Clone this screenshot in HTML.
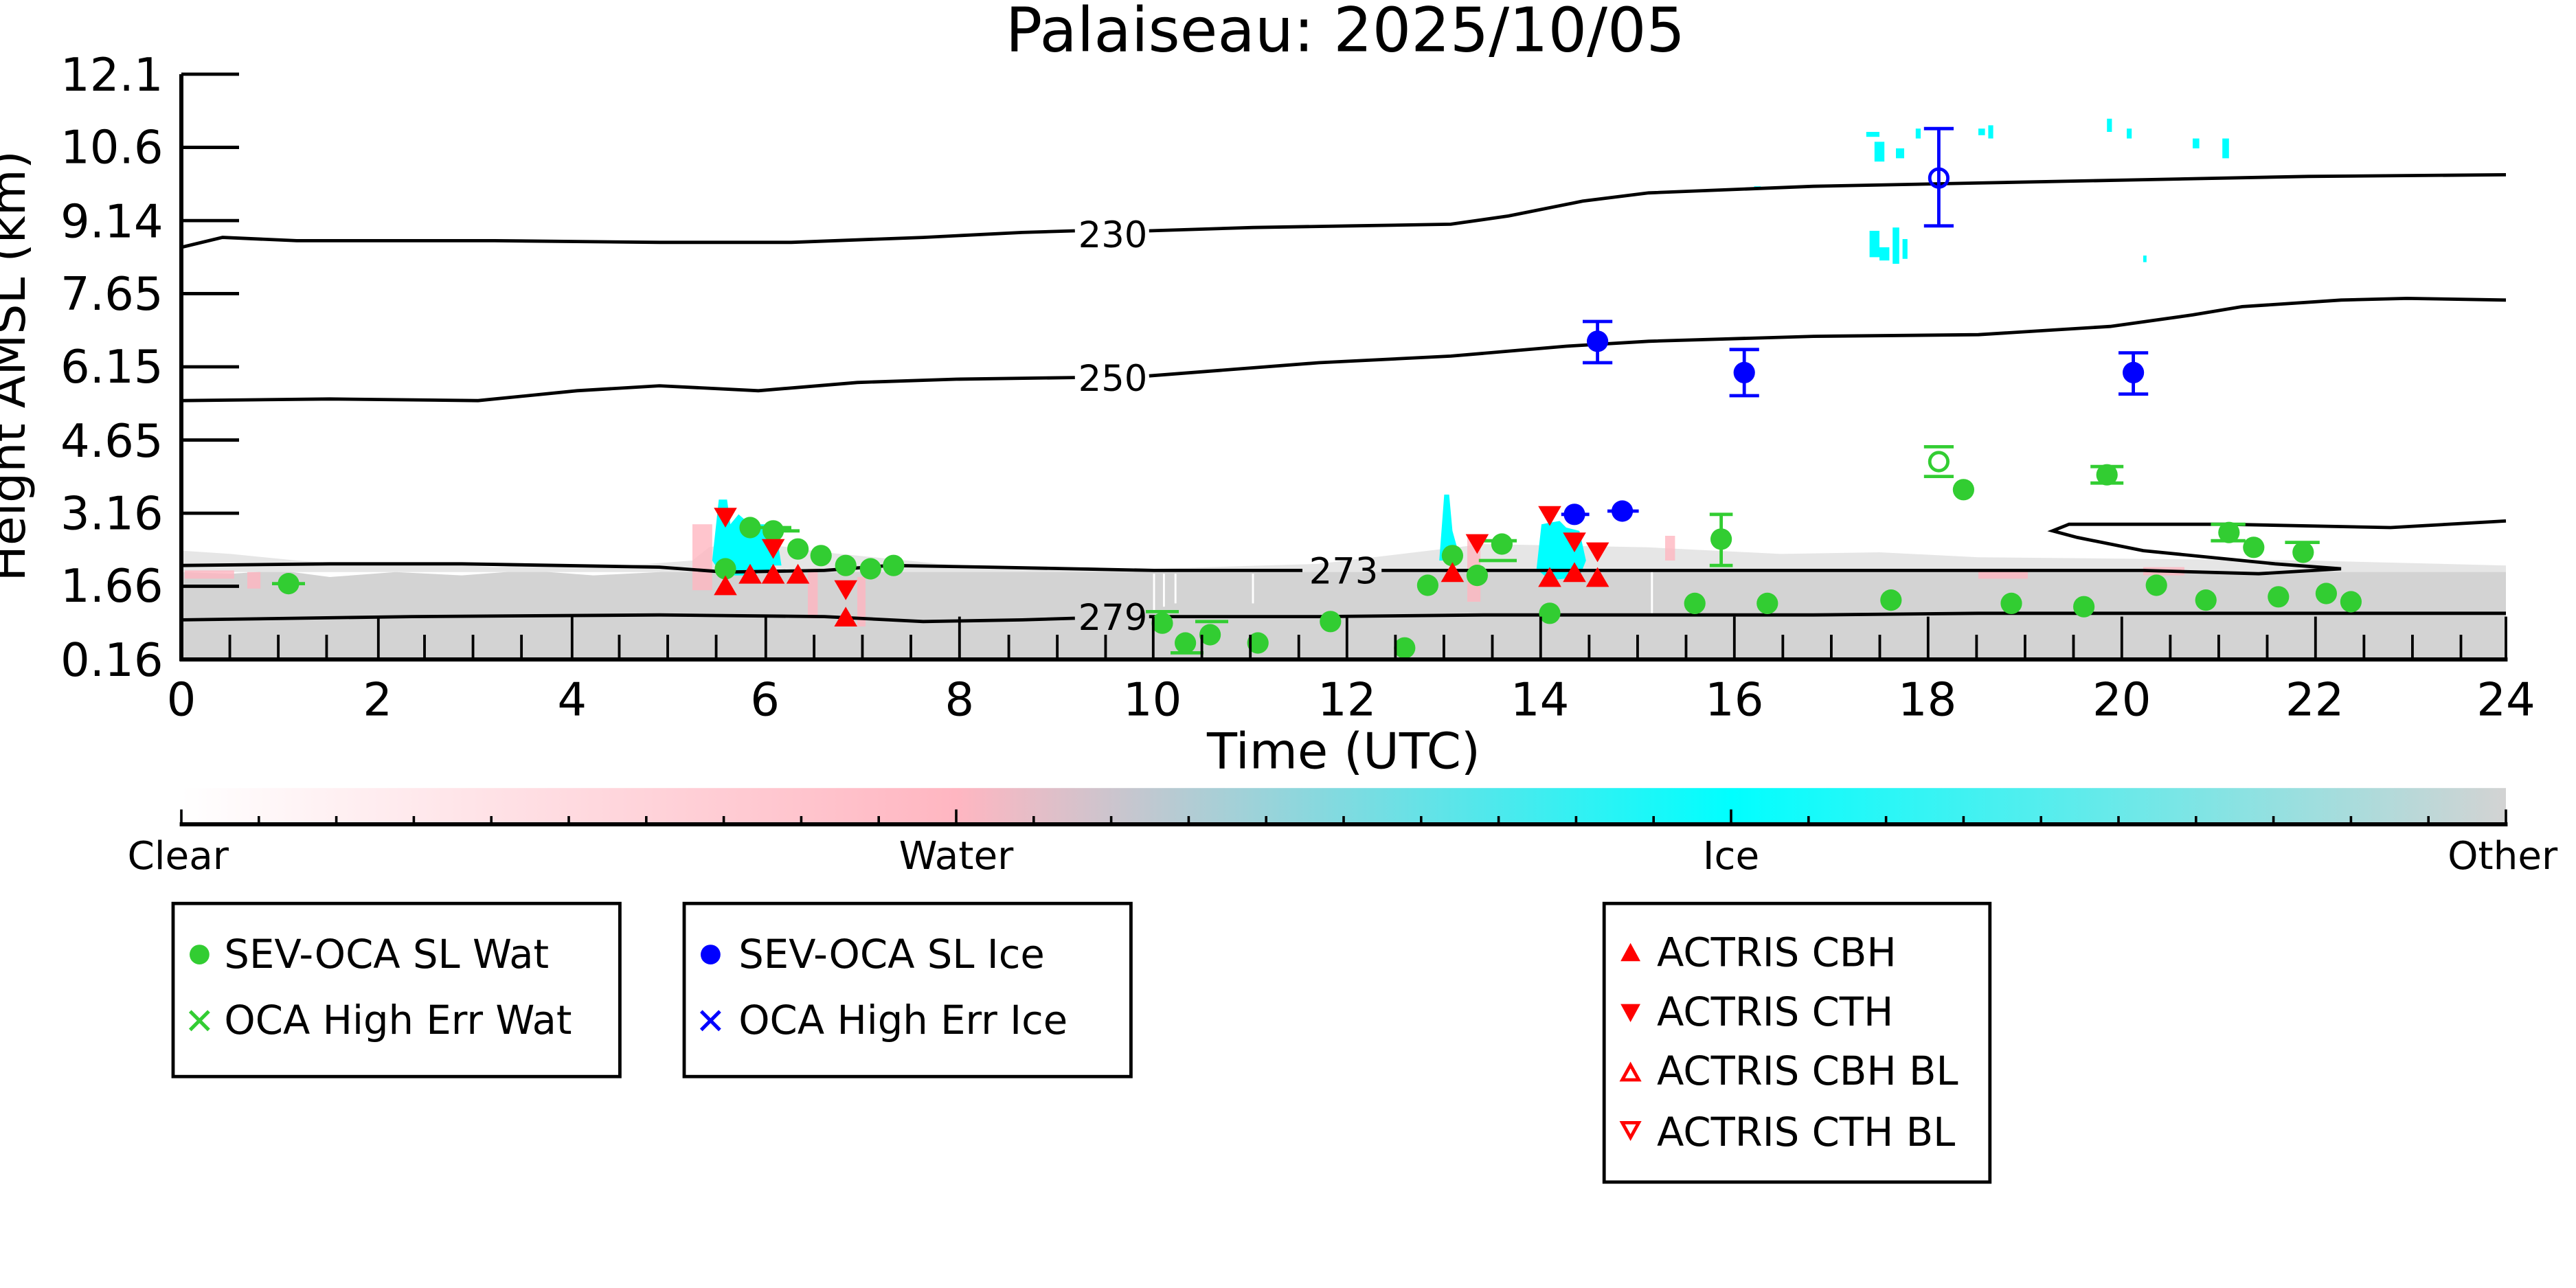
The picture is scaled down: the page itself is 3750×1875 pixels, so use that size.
<!DOCTYPE html>
<html><head><meta charset="utf-8"><style>html,body{margin:0;padding:0;background:#fff}svg{display:block}</style></head>
<body>
<svg width="3750" height="1875" viewBox="0 0 1562.5 781.25" xmlns="http://www.w3.org/2000/svg" font-family="DejaVu Sans, Liberation Sans, sans-serif">
<rect width="1562.5" height="781.25" fill="#fff"/>
<text x="816" y="31" font-size="37" text-anchor="middle">Palaiseau: 2025/10/05</text>
<polygon fill="#d3d3d3" points="110,400 110,347 140,348 170,346 200,350 240,347 280,349 320,346 360,349 400,347 420,344 440,340 470,342 500,346 540,343 580,345 620,345 660,344 700,346 740,345 780,344 820,343 860,340 880,338 900,340 940,339 980,342 1020,340 1060,339 1100,341 1140,339 1180,341 1220,342 1260,341 1300,342 1340,341 1380,343 1420,342 1460,344 1520,344 1520,400"/>
<polygon fill="#e6e6e6" points="110,347 110,334 140,336 180,340 220,343 260,342 300,344 340,342 380,343 420,340 430,332 450,328 500,335 560,341 600,345 700,345 800,342 900,330 1000,332 1080,336 1140,335 1200,338 1300,339 1400,340 1520,343 1520,347"/>
<g stroke="#fff" stroke-width="1.2">
<line x1="700" y1="348" x2="700" y2="372"/><line x1="706" y1="348" x2="706" y2="368"/><line x1="713" y1="348" x2="713" y2="366"/><line x1="760" y1="348" x2="760" y2="366"/><line x1="1002" y1="345" x2="1002" y2="372"/>
</g>
<g fill="#ffb6c1" opacity="0.8">
<rect x="112" y="346" width="30" height="5"/><rect x="150" y="347" width="8" height="10"/><rect x="420" y="318" width="12" height="40"/><rect x="490" y="345" width="6" height="30"/><rect x="520" y="350" width="5" height="30"/><rect x="890" y="325" width="8" height="40"/><rect x="1010" y="325" width="6" height="15"/><rect x="1200" y="345" width="30" height="6"/><rect x="1300" y="344" width="25" height="5"/>
</g>
<g fill="#00ffff">
<polygon points="432,340 436,303 441,303 443,318 448,312 455,318 466,318 468,345 456,349 447,349 438,349"/>
<polygon points="466,330 472,330 474,343 466,343"/>
<polygon points="873,340 876,300 879,300 881,322 886,340"/>
<polygon points="932,345 935,318 946,316 950,320 958,322 962,340 958,350 940,352"/>
<rect x="1132" y="80" width="8" height="3"/><rect x="1137" y="86" width="6" height="12"/><rect x="1150" y="90" width="5" height="6"/><rect x="1162" y="78" width="3" height="6"/><rect x="1200" y="78" width="4" height="4"/><rect x="1206" y="76" width="3" height="8"/>
<rect x="1278" y="72" width="3" height="8"/><rect x="1290" y="78" width="3" height="6"/><rect x="1330" y="84" width="4" height="6"/><rect x="1348" y="84" width="4" height="12"/>
<rect x="1134" y="140" width="6" height="16"/><rect x="1140" y="150" width="6" height="8"/><rect x="1148" y="138" width="4" height="22"/><rect x="1154" y="145" width="3" height="12"/><rect x="1300" y="155" width="2" height="4"/><rect x="1064" y="113" width="4" height="2"/>
</g>
<g fill="none" stroke="#000" stroke-width="2">
<polyline points="110,150 135,144 180,146 300,146 400,147 480,147 560,144 620,141 652,140"/>
<polyline points="697,140 760,138 820,137 880,136 915,131 960,122 1000,117 1100,113 1200,111 1300,109 1400,107 1520,106"/>
<polyline points="110,243 200,242 290,243 350,237 400,234 460,237 520,232 580,230 652,229"/>
<polyline points="697,228 800,220 880,216 950,210 1000,207 1100,204 1200,203 1280,198 1330,191 1360,186 1420,182 1460,181 1520,182"/>
<polyline points="110,343 200,342 280,342 400,344 440,347 500,346 540,343 600,344 700,346 790,346"/>
<polyline points="838,346 1000,346 1200,346 1300,346 1370,348 1420,345 1380,342 1300,334 1260,326 1245,322 1255,318 1350,318 1450,320 1520,316"/>
<polyline points="110,376 250,374 400,373 500,374 560,377 620,376 652,375"/>
<polyline points="697,374 800,374 900,373 1000,373 1100,373 1200,372 1520,372"/>
</g>
<g font-size="22" text-anchor="middle">
<text x="675" y="150">230</text><text x="675" y="237">250</text><text x="815" y="354">273</text><text x="675" y="382">279</text>
</g>
<g stroke="#32cd32" stroke-width="2" fill="none">
<path d="M1044,312 V343 M1037,312 H1051 M1037,343 H1051"/>
<path d="M1167,271 H1185 M1167,289 H1185"/>
<path d="M1268,283 H1288 M1268,293 H1288"/>
<path d="M1341,318 H1362 M1341,328 H1362"/>
<path d="M1386,329 H1407"/>
<path d="M695,371 H715 M710,396 H730 M725,377 H745"/>
<path d="M165,354 H185 M455,320 H480 M469,322 H485 M897,328 H920 M897,340 H920"/>
</g>
<g stroke="#0000ff" stroke-width="2" fill="none">
<path d="M969,195 V220 M960,195 H978 M960,220 H978"/>
<path d="M1058,212 V240 M1049,212 H1067 M1049,240 H1067"/>
<path d="M1294,214 V239 M1285,214 H1303 M1285,239 H1303"/>
<path d="M1176,78 V137 M1167,78 H1185 M1167,137 H1185"/>
<path d="M947,312 H964 M975,310 H994"/>
</g>
<g fill="#32cd32">
<circle cx="175" cy="354" r="6.5"/><circle cx="440" cy="345" r="6.5"/><circle cx="455" cy="320" r="6.5"/><circle cx="469" cy="322" r="6.5"/><circle cx="484" cy="333" r="6.5"/><circle cx="498" cy="337" r="6.5"/><circle cx="513" cy="343" r="6.5"/><circle cx="528" cy="345" r="6.5"/><circle cx="542" cy="343" r="6.5"/>
<circle cx="705" cy="378" r="6.5"/><circle cx="719" cy="390" r="6.5"/><circle cx="734" cy="385" r="6.5"/><circle cx="763" cy="390" r="6.5"/><circle cx="807" cy="377" r="6.5"/><circle cx="852" cy="393" r="6.5"/><circle cx="866" cy="355" r="6.5"/><circle cx="881" cy="337" r="6.5"/><circle cx="896" cy="349" r="6.5"/><circle cx="911" cy="330" r="6.5"/><circle cx="940" cy="372" r="6.5"/>
<circle cx="1044" cy="327" r="6.5"/><circle cx="1028" cy="366" r="6.5"/><circle cx="1072" cy="366" r="6.5"/><circle cx="1147" cy="364" r="6.5"/><circle cx="1191" cy="297" r="6.5"/><circle cx="1220" cy="366" r="6.5"/><circle cx="1264" cy="368" r="6.5"/><circle cx="1278" cy="288" r="6.5"/><circle cx="1308" cy="355" r="6.5"/><circle cx="1338" cy="364" r="6.5"/><circle cx="1352" cy="323" r="6.5"/><circle cx="1367" cy="332" r="6.5"/><circle cx="1382" cy="362" r="6.5"/><circle cx="1397" cy="335" r="6.5"/><circle cx="1411" cy="360" r="6.5"/><circle cx="1426" cy="365" r="6.5"/>
</g>
<circle cx="1176" cy="280" r="5.5" fill="none" stroke="#32cd32" stroke-width="2"/>
<g fill="#0000ff">
<circle cx="969" cy="207" r="6.5"/><circle cx="1058" cy="226" r="6.5"/><circle cx="1294" cy="226" r="6.5"/><circle cx="955" cy="312" r="6.5"/><circle cx="984" cy="310" r="6.5"/>
</g>
<circle cx="1176" cy="108" r="5.5" fill="none" stroke="#0000ff" stroke-width="2"/>
<g fill="#ff0000">
<path d="M440,349 l-7,12 h14z M455,342 l-7,12 h14z M469,342 l-7,12 h14z M484,342 l-7,12 h14z M513,368 l-7,12 h14z M881,341 l-7,12 h14z M940,344 l-7,12 h14z M955,341 l-7,12 h14z M969,344 l-7,12 h14z"/>
<path d="M440,320 l-7,-12 h14z M469,339 l-7,-12 h14z M513,364 l-7,-12 h14z M896,336 l-7,-12 h14z M940,319 l-7,-12 h14z M955,335 l-7,-12 h14z M969,341 l-7,-12 h14z"/>
</g>
<g stroke="#000" stroke-width="2.5" fill="none">
<line x1="110" y1="45" x2="110" y2="401"/><line x1="109" y1="400" x2="1521" y2="400"/>
</g>
<g stroke="#000" stroke-width="2">
<line x1="110" y1="45" x2="145" y2="45"/><line x1="110" y1="89.4" x2="145" y2="89.4"/><line x1="110" y1="133.8" x2="145" y2="133.8"/><line x1="110" y1="178.1" x2="145" y2="178.1"/><line x1="110" y1="222.5" x2="145" y2="222.5"/><line x1="110" y1="266.9" x2="145" y2="266.9"/><line x1="110" y1="311.3" x2="145" y2="311.3"/><line x1="110" y1="355.6" x2="145" y2="355.6"/>
</g>
<g stroke="#000" stroke-width="1.6">
<path d="M229.5,374V400 M347,374V400 M464.5,374V400 M582,374V400 M699.5,374V400 M817,374V400 M934.5,374V400 M1052,374V400 M1169.5,374V400 M1287,374V400 M1404.5,374V400 M1520,374V400"/>
<path d="M139.4,385V400 M168.8,385V400 M198.1,385V400 M257.5,385V400 M286.9,385V400 M316.3,385V400 M375.6,385V400 M405,385V400 M434.4,385V400 M493.8,385V400 M523.1,385V400 M552.5,385V400 M611.9,385V400 M641.3,385V400 M670.6,385V400 M729,385V400 M758.4,385V400 M787.8,385V400 M846.4,385V400 M875.8,385V400 M905.2,385V400 M963.9,385V400 M993.3,385V400 M1022.7,385V400 M1081.4,385V400 M1110.8,385V400 M1140.2,385V400 M1198.9,385V400 M1228.3,385V400 M1257.7,385V400 M1316.4,385V400 M1345.8,385V400 M1375.2,385V400 M1433.9,385V400 M1463.3,385V400 M1492.7,385V400"/>
</g>
<g font-size="28" text-anchor="end">
<text x="99" y="55">12.1</text><text x="99" y="99">10.6</text><text x="99" y="144">9.14</text><text x="99" y="188">7.65</text><text x="99" y="232">6.15</text><text x="99" y="277">4.65</text><text x="99" y="321">3.16</text><text x="99" y="365">1.66</text><text x="99" y="410">0.16</text>
</g>
<g font-size="28" text-anchor="middle">
<text x="110" y="434">0</text><text x="229" y="434">2</text><text x="347" y="434">4</text><text x="464" y="434">6</text><text x="582" y="434">8</text><text x="699" y="434">10</text><text x="817" y="434">12</text><text x="934" y="434">14</text><text x="1052" y="434">16</text><text x="1169" y="434">18</text><text x="1287" y="434">20</text><text x="1404" y="434">22</text><text x="1520" y="434">24</text>
</g>
<text x="815" y="466" font-size="30" text-anchor="middle">Time (UTC)</text>
<text transform="translate(15,222) rotate(-90)" font-size="29" text-anchor="middle">Height AMSL (km)</text>
<defs><linearGradient id="cb" x1="0" x2="1" y1="0" y2="0">
<stop offset="0" stop-color="#ffffff"/><stop offset="0.3333" stop-color="#ffb6c1"/><stop offset="0.6667" stop-color="#00ffff"/><stop offset="1" stop-color="#d3d3d3"/></linearGradient></defs>
<rect x="110" y="478" width="1410" height="22" fill="url(#cb)"/>
<line x1="109" y1="500" x2="1521" y2="500" stroke="#000" stroke-width="2.5"/>
<g stroke="#000" stroke-width="1.5">
<path d="M110,491V500 M580,491V500 M1050,491V500 M1520,491V500"/>
<path d="M157,495V500 M204,495V500 M251,495V500 M298,495V500 M345,495V500 M392,495V500 M439,495V500 M486,495V500 M533,495V500 M627,495V500 M674,495V500 M721,495V500 M768,495V500 M815,495V500 M862,495V500 M909,495V500 M956,495V500 M1003,495V500 M1097,495V500 M1144,495V500 M1191,495V500 M1238,495V500 M1285,495V500 M1332,495V500 M1379,495V500 M1426,495V500 M1473,495V500"/>
</g>
<g font-size="23.5" text-anchor="middle">
<text x="108" y="527">Clear</text><text x="580" y="527">Water</text><text x="1050" y="527">Ice</text><text x="1518" y="527">Other</text>
</g>
<g fill="none" stroke="#000" stroke-width="2">
<rect x="105" y="548" width="271" height="105"/><rect x="415" y="548" width="271" height="105"/><rect x="973" y="548" width="234" height="169"/>
</g>
<g font-size="24">
<circle cx="121" cy="579" r="6" fill="#32cd32"/><text x="136" y="587">SEV-OCA SL Wat</text>
<text x="121" y="627" fill="#32cd32" font-size="22" text-anchor="middle">✕</text><text x="136" y="627">OCA High Err Wat</text>
<circle cx="431" cy="579" r="6" fill="#0000ff"/><text x="448" y="587">SEV-OCA SL Ice</text>
<text x="431" y="627" fill="#0000ff" font-size="22" text-anchor="middle">✕</text><text x="448" y="627">OCA High Err Ice</text>
<path d="M989,572 l-6,11 h12z" fill="#ff0000"/><text x="1005" y="586">ACTRIS CBH</text>
<path d="M989,620 l-6,-11 h12z" fill="#ff0000"/><text x="1005" y="622">ACTRIS CTH</text>
<path d="M989,646 l-5,9 h10z" fill="none" stroke="#ff0000" stroke-width="2"/><text x="1005" y="658">ACTRIS CBH BL</text>
<path d="M989,690 l-5,-9 h10z" fill="none" stroke="#ff0000" stroke-width="2"/><text x="1005" y="695">ACTRIS CTH BL</text>
</g>
</svg>
</body></html>
